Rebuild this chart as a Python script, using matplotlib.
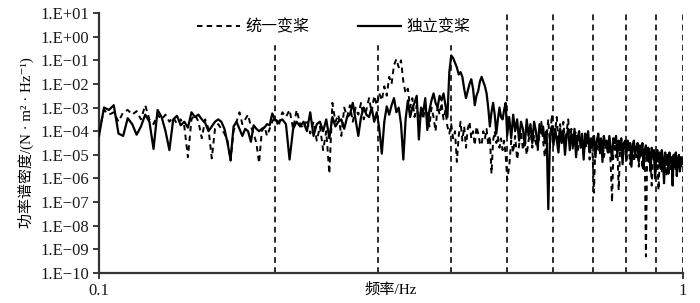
"""PSD comparison: collective vs individual pitch control"""

import numpy as np
import matplotlib
matplotlib.use("Agg")
import matplotlib.pyplot as plt
from matplotlib.ticker import FixedLocator, FuncFormatter, NullLocator

plt.rcParams['font.family'] = ['Liberation Serif', 'Noto Sans CJK SC',
                               'DejaVu Serif']
plt.rcParams['axes.unicode_minus'] = True

# frequency bins (Hz) of the three pieces of the spectrum
freq_low = np.arange(0.100, 0.2005, 0.002)
freq_mid = np.arange(0.203, 0.5005, 0.003)
freq_high = np.arange(0.504, 1.0005, 0.004)

# log10 of PSD, 统一变桨 (dashed)
uni_low = [-4.0, -3.1, -3.3, -3.2, -3.6, -3.2, -3.1, -3.3, -3.15, -3.5,
           -2.9, -3.5, -3.7, -3.3, -3.5, -3.3, -3.6, -3.4, -3.7, -3.5,
           -3.8, -5.1, -3.5, -3.3, -3.6, -4.3, -3.5, -3.9, -5.15, -3.9,
           -3.7, -3.9, -4.1, -4.4, -5.25, -4.0, -3.6, -3.2, -3.7, -3.5,
           -3.3, -3.8, -4.1, -4.5, -5.35, -4.0, -3.8, -4.2, -3.9, -3.6,
           -3.4]
uni_mid = [-3.8, -3.2, -3.4, -3.1, -3.9, -3.1, -3.7, -3.9, -3.5, -4.1,
           -3.6, -4.4, -3.8, -4.8, -4.0, -5.8, -2.8, -3.6, -3.3, -4.2,
           -3.0, -3.4, -2.9, -3.6, -3.0, -3.3, -2.8, -3.5, -3.1, -2.6,
           -3.2, -2.5, -2.9, -2.4, -2.7, -2.1, -2.5, -1.7, -2.0, -1.2,
           -0.95, -1.3, -1.0, -1.9, -2.4, -2.2, -3.0, -2.6, -3.4, -2.9,
           -3.7, -3.1, -3.5, -2.9, -3.3, -3.8, -3.0, -3.4, -4.0, -2.9,
           -3.3, -2.8, -3.5, -3.1, -3.8, -4.1, -3.7, -4.3, -4.0, -5.3,
           -4.2, -3.6, -4.4, -3.8, -4.7, -3.9, -3.6, -4.3, -4.0, -4.6,
           -3.8, -4.1, -4.5, -4.6, -4.0, -4.3, -3.9, -4.6, -4.2, -5.8,
           -4.4, -4.0, -4.5, -4.2, -4.7, -4.3, -4.8, -4.4, -5.0, -6.05]
uni_high = [-5.5, -4.4, -4.9, -4.2, -5.2, -4.6, -4.0, -4.8, -4.3, -5.0,
            -4.4, -3.9, -4.7, -4.2, -4.5, -4.8, -4.1, -3.6, -4.4, -5.1,
            -4.3, -3.5, -4.7, -3.3, -4.2, -4.0, -3.4, -4.6, -3.7, -4.3,
            -3.6, -4.5, -4.0, -3.5, -4.4, -3.9, -4.8, -4.2, -4.0, -4.9,
            -4.3, -4.6, -4.1, -5.0, -4.4, -4.7, -4.2, -5.2, -4.5, -4.9,
            -6.6, -4.5, -4.8, -4.3, -5.0, -4.6, -4.4, -5.1, -4.7, -4.5,
            -5.0, -4.6, -5.4, -7.0, -4.8, -4.5, -5.1, -4.7, -6.5, -4.9,
            -4.6, -5.2, -4.8, -4.6, -5.3, -4.9, -4.7, -5.4, -5.0, -4.8,
            -5.3, -4.9, -5.1, -4.7, -5.5, -5.0, -4.8, -5.6, -5.1, -4.9,
            -9.3, -5.2, -5.0, -5.4, -5.1, -6.3, -5.3, -5.0, -5.6, -5.2,
            -5.1, -6.5, -5.3, -5.0, -5.7, -5.2, -5.5, -5.1, -5.9, -5.3,
            -5.4, -5.0, -5.6, -5.2, -5.8, -5.3, -5.1, -5.7, -5.4, -5.2,
            -5.6, -5.3, -5.5, -5.2, -5.4]

# log10 of PSD, 独立变桨 (solid)
ind_low = [-4.2, -3.0, -3.1, -2.9, -4.1, -4.2, -3.45, -3.7, -4.15, -3.8,
           -3.3, -3.6, -4.75, -3.1, -3.4, -4.0, -4.8, -3.5, -3.35, -3.75,
           -3.6, -3.85, -3.2, -3.4, -3.3, -3.5, -3.65, -4.0, -3.8, -3.6,
           -3.5, -3.6, -3.9, -4.5, -5.2, -3.8, -3.6, -3.9, -4.2, -3.9,
           -4.0, -4.45, -3.75, -3.9, -4.0, -3.9, -3.85, -3.7, -3.75, -3.25,
           -3.5]
ind_mid = [-3.6, -3.5, -3.7, -5.2, -3.9, -3.6, -3.8, -3.6, -4.0, -3.2,
           -4.2, -3.7, -3.6, -4.0, -3.5, -4.3, -3.4, -3.8, -3.6, -3.5,
           -3.9, -3.4, -3.3, -2.8, -3.5, -4.2, -3.4, -3.0, -3.3, -3.4,
           -3.0, -3.6, -3.2, -3.9, -4.95, -3.6, -2.95, -3.3, -2.9, -2.6,
           -3.2, -3.0, -3.7, -5.2, -3.5, -2.7, -3.4, -3.0, -2.8, -2.5,
           -4.35, -3.0, -3.2, -2.6, -3.95, -3.1, -2.7, -2.4, -2.8, -3.0,
           -2.5, -2.7, -2.4, -2.9, -3.4, -1.5, -0.8, -0.9, -1.1, -1.3,
           -1.6, -1.5, -1.7, -2.2, -2.6, -2.3, -2.0, -1.8, -2.2, -2.9,
           -2.5, -2.3, -1.9, -1.7, -1.9, -2.1, -2.4, -3.0, -3.8, -3.2,
           -2.8, -3.3, -4.1, -3.5, -3.0, -3.4, -3.5, -3.1, -2.8, -4.2]
ind_high = [-3.4, -4.3, -3.3, -4.0, -3.5, -4.4, -3.6, -3.9, -4.6, -3.5,
            -4.2, -3.7, -4.5, -3.6, -4.0, -4.7, -3.7, -4.1, -3.8, -4.5,
            -4.0, -7.3, -4.2, -3.8, -4.6, -3.9, -4.4, -4.9, -3.9, -4.5,
            -4.0, -5.0, -4.2, -3.9, -4.8, -4.1, -4.6, -3.9, -5.1, -4.3,
            -4.0, -4.7, -4.2, -5.2, -4.1, -4.5, -4.0, -4.9, -4.3, -4.6,
            -4.2, -5.1, -4.4, -4.1, -4.8, -4.3, -5.3, -4.2, -4.6, -4.4,
            -4.9, -4.2, -4.7, -5.2, -4.3, -4.5, -4.2, -5.0, -4.4, -4.8,
            -4.3, -5.4, -4.5, -4.4, -5.0, -4.4, -4.8, -4.5, -5.5, -4.6,
            -4.4, -5.0, -4.7, -4.5, -5.3, -4.6, -5.0, -4.5, -5.6, -4.8,
            -4.6, -5.2, -4.7, -4.9, -5.7, -4.7, -5.1, -4.8, -6.0, -4.9,
            -4.8, -5.3, -4.9, -5.6, -4.8, -5.2, -6.2, -4.9, -5.4, -5.0,
            -5.8, -4.9, -5.3, -5.1, -6.3, -5.0, -5.5, -4.9, -5.9, -5.2,
            -5.0, -5.7, -5.1, -5.4, -5.2]

guide_freqs = [0.2, 0.3, 0.4, 0.5, 0.6, 0.7, 0.8, 0.9, 1.0]
decades = list(range(-10, 2))
labels = ["统一变桨", "独立变桨"]


def sci_label(val, pos):
    e = int(round(np.log10(val)))
    sign = "+" if e >= 0 else "\u2212"
    return "1.E%s%02d" % (sign, abs(e))


freq = np.concatenate([freq_low, freq_mid, freq_high])
psd_uni = 10.0 ** np.concatenate([uni_low, uni_mid, uni_high])
psd_ind = 10.0 ** np.concatenate([ind_low, ind_mid, ind_high])

fig = plt.figure(figsize=(7.0, 3.03), dpi=100)
ax = fig.add_axes([0.1414, 0.099, 0.8343, 0.858])

for g in guide_freqs:
    ax.axvline(g, color="#1a1a1a", lw=1.3, ls=(0, (3.2, 2.4)), zorder=1)

ax.plot(freq, psd_uni, color="black", lw=1.4, ls=(0, (2.8, 2.2)),
        label=labels[0], zorder=2)
ax.plot(freq, psd_ind, color="black", lw=1.6, label=labels[1], zorder=3)

ax.set_xscale("log")
ax.set_yscale("log")
ax.set_xlim(0.1, 1)
ax.set_ylim(1e-10, 1e1)

ax.xaxis.set_major_locator(FixedLocator([0.1, 1]))
ax.xaxis.set_major_formatter(FuncFormatter(lambda v, p: "%g" % v))
ax.xaxis.set_minor_locator(NullLocator())
ax.yaxis.set_major_locator(FixedLocator([10.0 ** d for d in decades]))
ax.yaxis.set_major_formatter(FuncFormatter(sci_label))
ax.yaxis.set_minor_locator(NullLocator())
ax.tick_params(axis="both", labelsize=12, colors="#1a1a1a", width=1.2,
               length=4, direction="out", pad=3)

for side in ("top", "right"):
    ax.spines[side].set_visible(False)
for side in ("left", "bottom"):
    ax.spines[side].set_linewidth(1.6)
    ax.spines[side].set_color("#333333")

ax.set_xlabel("频率/Hz", fontsize=11, labelpad=-12)
ax.set_ylabel("功率谱密度/(N · m² · Hz⁻¹)", fontsize=10.8, labelpad=5)

leg = ax.legend(loc="center", bbox_to_anchor=(0.402, 0.944), ncol=2,
                fontsize=11.5, handlelength=2.7, handletextpad=0.35,
                columnspacing=3.0, borderpad=0.55, frameon=True,
                fancybox=False)
leg.get_frame().set_facecolor("white")
leg.get_frame().set_edgecolor("white")
leg.get_frame().set_alpha(1.0)

fig.savefig("out.png", dpi=100)
